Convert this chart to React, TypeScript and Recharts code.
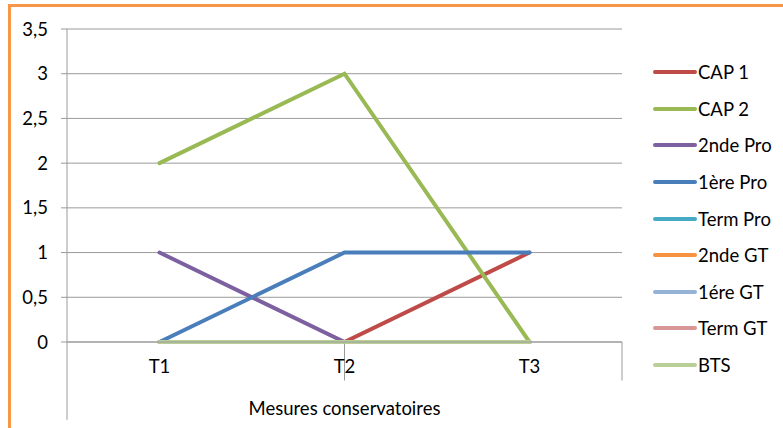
import { LineChart, Line, XAxis, YAxis, CartesianGrid, ReferenceLine } from 'recharts';

const periods = ['T1', 'T2', 'T3'];
const yTicks = [0, 0.5, 1, 1.5, 2, 2.5, 3, 3.5];

const cap1 = [0, 0, 1];
const cap2 = [2, 3, 0];
const secondePro = [1, 0, 0];
const premierePro = [0, 1, 1];
const termPro = [0, 0, 0];
const secondeGT = [0, 0, 0];
const premiereGT = [0, 0, 0];
const termGT = [0, 0, 0];
const bts = [0, 0, 0];

const series = [
  { name: 'CAP 1', values: cap1, color: '#BE4B48' },
  { name: 'CAP 2', values: cap2, color: '#98B954' },
  { name: '2nde Pro', values: secondePro, color: '#7D60A0' },
  { name: '1ère Pro', values: premierePro, color: '#4A7EBB' },
  { name: 'Term Pro', values: termPro, color: '#46AAC5' },
  { name: '2nde GT', values: secondeGT, color: '#F69240' },
  { name: '1ére GT', values: premiereGT, color: '#94B3D6' },
  { name: 'Term GT', values: termGT, color: '#D99694' },
  { name: 'BTS', values: bts, color: '#BACE98' },
];

// category boundaries on the hidden numeric axis (0..3)
const separators = [1, 2];
const outerEdges = [0, 3];

const data = periods.map((t, i) => {
  const row: Record<string, string | number> = { t };
  series.forEach((s) => { row[s.name] = s.values[i]; });
  return row;
});

const FONT = 'Lato, "Open Sans", sans-serif';
const FS = 18.5;
const GRID = '#9a9a9a';

export default function App() {
  return (
    <div style={{ position: 'absolute', left: 0, top: 0, width: 783, height: 428, overflow: 'hidden', background: '#fff', fontFamily: FONT }}>
      <div style={{ position: 'absolute', left: 8, top: 4, width: 820, height: 460, borderTop: '3px solid #F79646', borderLeft: '3px solid #F79646', boxSizing: 'border-box' }} />
      <div style={{ position: 'absolute', left: 0, top: 0 }}>
        <LineChart width={783} height={428} data={data} margin={{ top: 29, right: 161, bottom: 0, left: 7 }}>
          <CartesianGrid vertical={false} stroke={GRID} />
          <XAxis
            dataKey="t"
            padding={{ left: 92.5, right: 92.5 }}
            height={86}
            axisLine={{ stroke: GRID }}
            tickLine={false}
            tickMargin={11.5}
            tick={{ fill: '#000', fontSize: FS, fontFamily: FONT }}
            label={{ value: 'Mesures conservatoires', position: 'insideBottom', offset: 13, fill: '#000', fontSize: FS, fontFamily: FONT }}
          />
          <XAxis xAxisId="sep" type="number" domain={[0, 3]} allowDataOverflow hide />
          <YAxis
            width={60}
            domain={[0, 3.5]}
            ticks={yTicks}
            interval={0}
            axisLine={{ stroke: GRID }}
            tickLine={{ stroke: GRID }}
            tickSize={6}
            tickMargin={13}
            tick={{ fill: '#000', fontSize: FS, fontFamily: FONT }}
            tickFormatter={(v: number) => String(v).replace('.', ',')}
          />
          {separators.map((x) => (
            <ReferenceLine key={`s${x}`} xAxisId="sep" segment={[{ x, y: 0 }, { x, y: -0.43 }]} ifOverflow="visible" stroke={GRID} />
          ))}
          {outerEdges.map((x) => (
            <ReferenceLine key={`e${x}`} xAxisId="sep" segment={[{ x, y: 0 }, { x, y: -0.87 }]} ifOverflow="visible" stroke={GRID} />
          ))}
          {series.map((s) => (
            <Line
              key={s.name}
              dataKey={s.name}
              stroke={s.color}
              strokeWidth={4}
              strokeLinecap="round"
              dot={false}
              activeDot={false}
              type="linear"
              isAnimationActive={false}
            />
          ))}
        </LineChart>
      </div>
      <div style={{ position: 'absolute', left: 653, top: 54 }}>
        {series.map((s) => (
          <div key={s.name} style={{ display: 'flex', alignItems: 'center', height: 36.6, fontSize: FS, color: '#000' }}>
            <div style={{ width: 44, height: 4, borderRadius: 2, background: s.color, marginRight: 1 }} />
            <span>{s.name}</span>
          </div>
        ))}
      </div>
    </div>
  );
}
